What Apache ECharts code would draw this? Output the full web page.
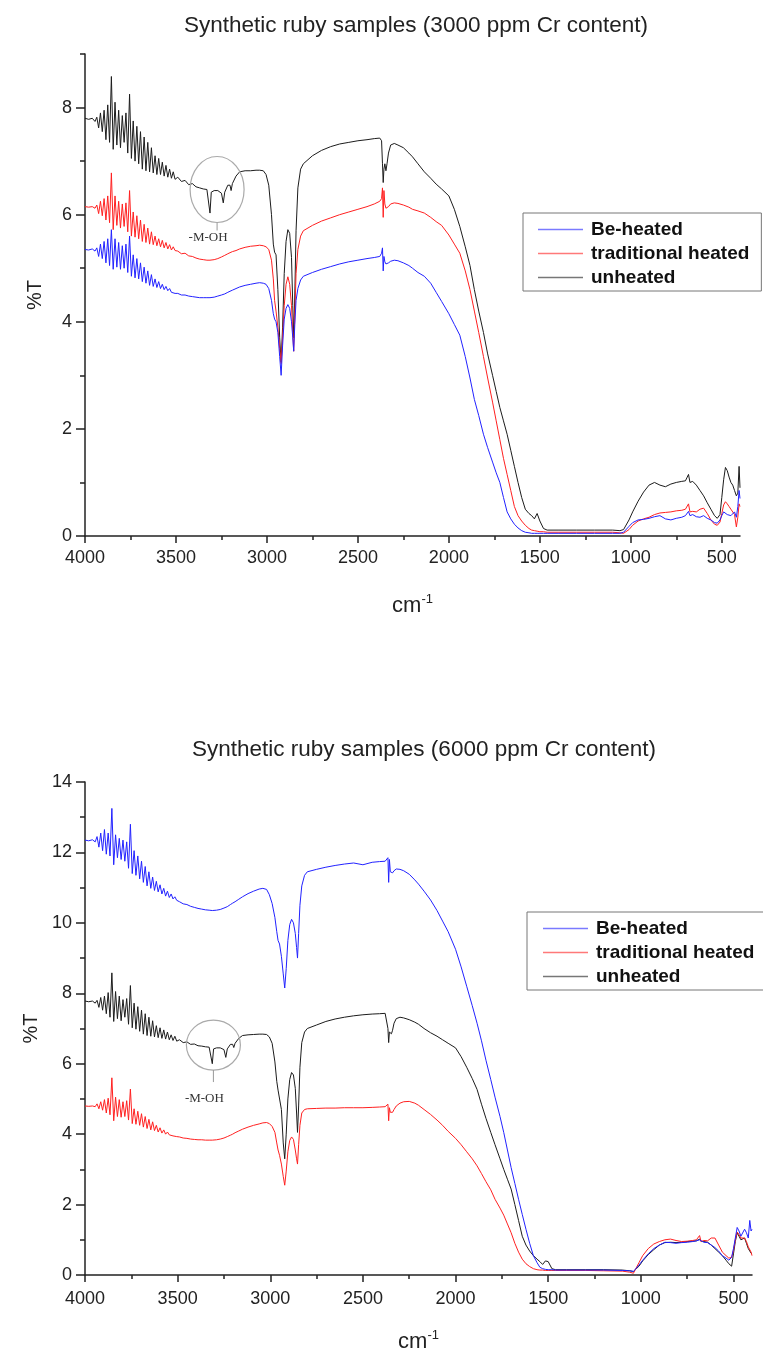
<!DOCTYPE html>
<html><head><meta charset="utf-8">
<script src="https://cdn.jsdelivr.net/npm/echarts@6/dist/echarts.min.js"></script>
<style>html,body{margin:0;padding:0;background:#fff}#c{width:763px;height:1354px}</style>
</head><body><div id="c"></div>
<script>
// Shared wavenumber grid (cm^-1) used by every spectrum
const wavenumbers = [
  4000, 3980, 3960, 3945,
  3935, 3925, 3915, 3905, 3895, 3885, 3875, 3865, 3855, 3845,
  3835, 3825, 3815, 3805, 3795, 3785, 3775, 3765, 3755, 3745,
  3735, 3725, 3715, 3705, 3695, 3685, 3675, 3665, 3655, 3645,
  3635, 3625, 3615, 3605, 3595, 3585, 3575, 3565, 3555, 3545,
  3535, 3525, 3515, 3505,
  3490, 3470, 3450, 3430, 3410, 3390, 3370, 3350, 3330, 3320,
  3313, 3306, 3290, 3270, 3250, 3240, 3232, 3215, 3203, 3197,
  3190, 3170, 3150, 3120, 3090, 3060, 3040, 3020, 3005,
  2990, 2975, 2965, 2958, 2950, 2940, 2930, 2922, 2914, 2905,
  2895, 2885, 2875, 2865, 2858, 2853, 2847, 2840, 2830, 2815, 2800,
  2750, 2700, 2650, 2600, 2550, 2500, 2450, 2410, 2380, 2370,
  2365, 2361, 2357, 2352, 2346, 2340, 2332, 2320, 2300, 2280,
  2250, 2220, 2200, 2170, 2135, 2100, 2070, 2040, 2000, 1970,
  1940, 1910, 1884, 1860, 1836, 1810, 1787, 1760, 1740, 1720,
  1700, 1680, 1660, 1640, 1620, 1600, 1580, 1560, 1545, 1530,
  1515, 1500, 1480, 1460,
  1400, 1300, 1200, 1100, 1060, 1040, 1030, 1010, 990, 960,
  930, 900, 870, 840, 810, 780, 750, 720, 700, 690,
  683, 675, 660, 640, 620, 600, 580, 560, 540, 525,
  510, 500, 490, 480, 470, 460, 450, 440, 430, 420,
  412, 405, 400
];

// ---- 3000 ppm Cr chart (%T) ----
const top_BeHeated = [
  5.35, 5.34, 5.36, 5.32,
  5.38, 5.22, 5.45, 5.18, 5.50, 5.10, 5.55, 5.05, 5.72, 4.98,
  5.55, 5.02, 5.48, 4.98, 5.42, 5.00, 5.45, 4.92, 5.60, 4.85,
  5.25, 4.82, 5.18, 4.80, 5.10, 4.75, 5.02, 4.72, 4.95, 4.68,
  4.88, 4.66, 4.80, 4.64, 4.75, 4.62, 4.70, 4.60, 4.66, 4.58,
  4.62, 4.55, 4.58, 4.53,
  4.53, 4.50, 4.50, 4.48, 4.47, 4.46, 4.45, 4.45, 4.45, 4.45,
  4.45, 4.45, 4.46, 4.48, 4.50, 4.51, 4.52, 4.55, 4.57, 4.58,
  4.59, 4.62, 4.65, 4.68, 4.70, 4.72, 4.73, 4.72, 4.70,
  4.62, 4.40, 4.15, 4.05, 4.00, 3.80, 3.35, 3.00, 3.55, 4.05,
  4.25, 4.32, 4.25, 4.00, 3.70, 3.45, 3.95, 4.40, 4.62, 4.78, 4.85,
  4.92, 4.98, 5.03, 5.08, 5.12, 5.15, 5.18, 5.20, 5.22, 5.28,
  5.38, 4.95, 5.22, 5.12, 5.08, 5.08, 5.10, 5.13, 5.15, 5.14,
  5.10, 5.05, 5.00, 4.92, 4.85, 4.72, 4.55, 4.38, 4.15, 3.95,
  3.75, 3.35, 2.95, 2.55, 2.25, 1.90, 1.65, 1.38, 1.18, 1.00,
  0.72, 0.45, 0.32, 0.22, 0.15, 0.10, 0.07, 0.06, 0.05, 0.05,
  0.05, 0.05, 0.05, 0.05,
  0.05, 0.05, 0.05, 0.05, 0.05, 0.07, 0.10, 0.18, 0.25, 0.30,
  0.31, 0.33, 0.36, 0.38, 0.32, 0.30, 0.33, 0.35, 0.38, 0.40,
  0.46, 0.38, 0.40, 0.36, 0.35, 0.38, 0.33, 0.30, 0.25, 0.24,
  0.30, 0.38, 0.45, 0.44, 0.40, 0.42, 0.38, 0.40, 0.45, 0.35,
  0.55, 0.85, 0.70
];
const top_Traditional = [
  6.15, 6.14, 6.15, 6.12,
  6.18, 6.02, 6.25, 5.98, 6.30, 5.90, 6.35, 5.85, 6.78, 5.72,
  6.35, 5.80, 6.25, 5.75, 6.20, 5.78, 6.22, 5.68, 6.45, 5.60,
  6.05, 5.58, 5.98, 5.55, 5.90, 5.50, 5.82, 5.48, 5.75, 5.45,
  5.68, 5.44, 5.60, 5.42, 5.55, 5.40, 5.52, 5.38, 5.48, 5.36,
  5.44, 5.34, 5.40, 5.33,
  5.32, 5.27, 5.28, 5.23, 5.22, 5.19, 5.17, 5.16, 5.15, 5.15,
  5.15, 5.15, 5.16, 5.18, 5.21, 5.22, 5.24, 5.27, 5.29, 5.30,
  5.31, 5.33, 5.36, 5.39, 5.41, 5.42, 5.43, 5.42, 5.40,
  5.35, 5.15, 4.80, 4.40, 4.20, 3.90, 3.50, 3.22, 3.70, 4.30,
  4.70, 4.84, 4.70, 4.30, 3.80, 3.45, 4.10, 4.90, 5.35, 5.60, 5.70,
  5.80, 5.88, 5.94, 6.00, 6.05, 6.10, 6.15, 6.20, 6.25, 6.30,
  6.50, 5.95, 6.45, 6.20, 6.12, 6.12, 6.15, 6.20, 6.22, 6.21,
  6.18, 6.14, 6.10, 6.07, 6.03, 5.95, 5.87, 5.80, 5.62, 5.45,
  5.28, 4.95, 4.60, 4.20, 3.80, 3.35, 2.95, 2.50, 2.15, 1.80,
  1.45, 1.15, 0.85, 0.55, 0.38, 0.28, 0.20, 0.14, 0.11, 0.10,
  0.09, 0.08, 0.08, 0.07,
  0.07, 0.07, 0.07, 0.07, 0.06, 0.05, 0.05, 0.12, 0.20, 0.28,
  0.32, 0.35, 0.40, 0.43, 0.44, 0.45, 0.47, 0.48, 0.50, 0.52,
  0.60, 0.45, 0.46, 0.45, 0.50, 0.52, 0.42, 0.30, 0.22, 0.20,
  0.26, 0.42, 0.58, 0.64, 0.60, 0.55, 0.50, 0.48, 0.40, 0.17,
  0.35, 0.60, 0.55
];
const top_Unheated = [
  7.80, 7.78, 7.80, 7.74,
  7.82, 7.62, 7.90, 7.55, 7.95, 7.40, 8.05, 7.35, 8.58, 7.22,
  8.10, 7.30, 7.95, 7.25, 7.85, 7.35, 7.90, 7.15, 8.25, 7.05,
  7.75, 7.00, 7.65, 6.95, 7.55, 6.85, 7.45, 6.82, 7.35, 6.80,
  7.25, 6.78, 7.10, 6.75, 7.05, 6.75, 6.98, 6.72, 6.92, 6.70,
  6.85, 6.68, 6.80, 6.66,
  6.70, 6.62, 6.64, 6.56, 6.58, 6.52, 6.50, 6.48, 6.47, 6.45,
  6.03, 6.42, 6.45, 6.45, 6.40, 6.22, 6.42, 6.55, 6.55, 6.45,
  6.58, 6.72, 6.80, 6.82, 6.82, 6.83, 6.83, 6.82, 6.75,
  6.55, 6.00, 5.45, 5.30, 5.25, 4.60, 3.70, 3.25, 3.90, 4.90,
  5.50, 5.72, 5.65, 5.20, 4.30, 3.70, 4.50, 5.70, 6.50, 6.85, 6.95,
  7.10, 7.20, 7.27, 7.32, 7.35, 7.38, 7.40, 7.42, 7.43, 7.38,
  6.95, 6.60, 6.85, 6.95, 6.82, 6.95, 7.15, 7.30, 7.33, 7.30,
  7.25, 7.15, 7.08, 6.95, 6.80, 6.68, 6.57, 6.48, 6.35, 6.10,
  5.78, 5.40, 5.05, 4.60, 4.20, 3.80, 3.40, 3.00, 2.70, 2.40,
  2.15, 1.90, 1.60, 1.30, 1.00, 0.72, 0.50, 0.42, 0.38, 0.32,
  0.42, 0.28, 0.14, 0.11,
  0.11, 0.11, 0.11, 0.11, 0.10, 0.12, 0.15, 0.30, 0.45, 0.65,
  0.82, 0.95, 1.00, 0.95, 0.92, 0.97, 1.00, 1.02, 1.03, 1.10,
  1.15, 1.00, 1.02, 0.95, 0.85, 0.75, 0.62, 0.50, 0.38, 0.33,
  0.40, 0.72, 1.05, 1.28, 1.22, 1.10, 1.00, 0.95, 0.85, 0.75,
  0.80, 1.30, 0.90
];

// ---- 6000 ppm Cr chart (%T) ----
const bottom_BeHeated = [
  12.35, 12.33, 12.36, 12.30,
  12.45, 12.15, 12.55, 12.05, 12.65, 11.95, 12.55, 11.90, 13.25, 11.65,
  12.50, 11.85, 12.40, 11.80, 12.35, 11.75, 12.30, 11.55, 12.80, 11.40,
  12.05, 11.35, 11.90, 11.25, 11.75, 11.15, 11.60, 11.05, 11.45, 10.98,
  11.30, 10.92, 11.18, 10.88, 11.08, 10.82, 10.98, 10.76, 10.90, 10.72,
  10.82, 10.68, 10.74, 10.64,
  10.60, 10.54, 10.52, 10.47, 10.44, 10.41, 10.39, 10.37, 10.36, 10.35,
  10.35, 10.35, 10.36, 10.38, 10.42, 10.44, 10.46, 10.52, 10.56, 10.58,
  10.60, 10.67, 10.74, 10.83, 10.90, 10.96, 10.98, 10.95, 10.80,
  10.55, 10.15, 9.75, 9.50, 9.40, 9.05, 8.55, 8.15, 8.70, 9.50,
  9.95, 10.10, 10.00, 9.70, 9.30, 9.00, 9.70, 10.50, 11.05, 11.35, 11.45,
  11.52, 11.58, 11.63, 11.67, 11.70, 11.65, 11.72, 11.74, 11.75, 11.76,
  11.85, 11.15, 11.80, 11.45, 11.40, 11.42, 11.48, 11.53, 11.52, 11.48,
  11.38, 11.22, 11.10, 10.90, 10.65, 10.35, 10.05, 9.75, 9.25, 8.75,
  8.20, 7.65, 7.15, 6.65, 6.10, 5.55, 5.05, 4.50, 4.05, 3.55,
  3.05, 2.60, 2.15, 1.72, 1.30, 0.90, 0.55, 0.35, 0.22, 0.18,
  0.16, 0.15, 0.15, 0.14,
  0.14, 0.14, 0.14, 0.13, 0.12, 0.10, 0.12, 0.28, 0.42, 0.60,
  0.75, 0.85, 0.93, 0.92, 0.90, 0.92, 0.93, 0.95, 0.97, 0.98,
  1.00, 0.95, 0.93, 0.92, 0.85, 0.78, 0.68, 0.55, 0.48, 0.42,
  0.50, 0.75, 1.05, 1.35, 1.25, 1.10, 1.05, 1.30, 1.20, 1.05,
  1.55, 1.25, 1.30
];
const bottom_Traditional = [
  4.80, 4.79, 4.80, 4.78,
  4.86, 4.72, 4.92, 4.68, 4.98, 4.60, 5.02, 4.55, 5.60, 4.38,
  5.05, 4.50, 4.98, 4.48, 4.92, 4.50, 4.95, 4.40, 5.28, 4.30,
  4.72, 4.28, 4.65, 4.25, 4.58, 4.20, 4.50, 4.16, 4.42, 4.12,
  4.35, 4.10, 4.25, 4.06, 4.18, 4.03, 4.12, 4.00, 4.06, 3.98,
  4.02, 3.95, 3.98, 3.93,
  3.92, 3.89, 3.88, 3.86, 3.85, 3.84, 3.84, 3.83, 3.83, 3.83,
  3.83, 3.83, 3.84, 3.86, 3.89, 3.91, 3.93, 3.97, 4.00, 4.02,
  4.04, 4.09, 4.14, 4.20, 4.25, 4.29, 4.32, 4.33, 4.30,
  4.22, 4.05, 3.75, 3.55, 3.40, 3.15, 2.80, 2.55, 2.95, 3.50,
  3.82, 3.92, 3.85, 3.55, 3.30, 3.15, 3.70, 4.25, 4.60, 4.70, 4.72,
  4.73, 4.74, 4.74, 4.75, 4.75, 4.75, 4.76, 4.77, 4.78, 4.78,
  4.85, 4.38, 4.75, 4.62, 4.58, 4.62, 4.70, 4.80, 4.88, 4.92,
  4.93, 4.88, 4.82, 4.70, 4.56, 4.40, 4.25, 4.08, 3.88, 3.70,
  3.50, 3.30, 3.10, 2.88, 2.65, 2.42, 2.15, 1.90, 1.70, 1.45,
  1.20, 0.90, 0.65, 0.45, 0.32, 0.24, 0.18, 0.15, 0.14, 0.14,
  0.13, 0.13, 0.13, 0.13,
  0.13, 0.13, 0.12, 0.11, 0.08, 0.05, 0.06, 0.35, 0.55, 0.75,
  0.88, 0.95, 1.00, 1.02, 0.98, 0.95, 0.96, 0.98, 1.00, 1.05,
  1.12, 0.95, 0.98, 0.97, 1.05, 1.05, 0.85, 0.65, 0.55, 0.48,
  0.50, 0.70, 1.00, 1.22, 1.15, 1.05, 1.00, 1.05, 0.95, 0.80,
  0.75, 0.65, 0.55
];
const bottom_Unheated = [
  7.78, 7.76, 7.78, 7.72,
  7.80, 7.60, 7.88, 7.52, 7.92, 7.42, 8.02, 7.32, 8.58, 7.20,
  8.05, 7.28, 7.92, 7.22, 7.82, 7.32, 7.85, 7.12, 8.22, 7.02,
  7.72, 6.98, 7.62, 6.92, 7.52, 6.84, 7.42, 6.80, 7.32, 6.78,
  7.22, 6.76, 7.08, 6.74, 7.02, 6.72, 6.96, 6.70, 6.90, 6.68,
  6.82, 6.66, 6.78, 6.64,
  6.68, 6.60, 6.62, 6.55, 6.56, 6.51, 6.50, 6.48, 6.47, 6.45,
  6.00, 6.42, 6.45, 6.45, 6.40, 6.18, 6.42, 6.55, 6.55, 6.46,
  6.58, 6.72, 6.80, 6.82, 6.83, 6.84, 6.84, 6.83, 6.76,
  6.58, 6.05, 5.50, 5.25, 5.20, 4.70, 3.75, 3.30, 4.00, 5.00,
  5.55, 5.75, 5.68, 5.30, 4.60, 4.05, 4.80, 5.90, 6.60, 6.90, 7.00,
  7.10, 7.20, 7.27, 7.32, 7.36, 7.39, 7.41, 7.42, 7.43, 7.38,
  7.00, 6.60, 6.90, 6.95, 6.85, 6.95, 7.15, 7.28, 7.32, 7.30,
  7.25, 7.18, 7.12, 7.00, 6.88, 6.78, 6.68, 6.58, 6.45, 6.20,
  5.90, 5.58, 5.27, 4.85, 4.45, 4.05, 3.70, 3.30, 3.00, 2.72,
  2.44, 2.00, 1.55, 1.10, 0.85, 0.68, 0.55, 0.45, 0.38, 0.30,
  0.40, 0.38, 0.18, 0.15,
  0.15, 0.15, 0.15, 0.14, 0.12, 0.10, 0.10, 0.25, 0.40, 0.58,
  0.72, 0.85, 0.92, 0.93, 0.92, 0.93, 0.95, 0.96, 0.97, 0.98,
  1.02, 0.95, 0.95, 0.93, 0.85, 0.75, 0.65, 0.55, 0.42, 0.32,
  0.25, 0.60, 0.95, 1.20, 1.10, 1.00, 0.98, 1.05, 0.90, 0.75,
  0.70, 0.62, 0.60
];

// Axis ticks / labels
const xMajorTicks = [500, 1000, 1500, 2000, 2500, 3000, 3500, 4000];
const xMinorTicks = [750, 1250, 1750, 2250, 2750, 3250, 3750];
const topYMajor = [0, 2, 4, 6, 8];
const topYMinor = [1, 3, 5, 7, 9];
const bottomYMajor = [0, 2, 4, 6, 8, 10, 12, 14];
const bottomYMinor = [1, 3, 5, 7, 9, 11, 13];

const seriesNames = ['Be-heated', 'traditional heated', 'unheated'];
const seriesColors = ['#2222ff', '#ff2020', '#1c1c1c'];
const chartTitles = ['Synthetic ruby samples (3000 ppm Cr content)', 'Synthetic ruby samples (6000 ppm Cr content)'];
const annotationLabel = '-M-OH';
const annotationTop = [3274, 6.47];     // [wavenumber, %T] of circled region
const annotationBottom = [3307, 6.53];

const FONT = "'Liberation Sans', Arial, Helvetica, sans-serif";
const AX = '#222';

const chartsData = [
  { values: [top_BeHeated, top_Traditional, top_Unheated], yMax: 9, yMajor: topYMajor, yMinor: topYMinor,
    grid: { left: 85, top: 54, width: 655, height: 482 }, xNameGap: 57, labelMargin: 13 },
  { values: [bottom_BeHeated, bottom_Traditional, bottom_Unheated], yMax: 14, yMajor: bottomYMajor, yMinor: bottomYMinor,
    grid: { left: 85, top: 782, width: 667, height: 494 }, xNameGap: 54, labelMargin: 15 }
];

chartsData.forEach(c => c.values.forEach((v, i) => {
  if (v.length !== wavenumbers.length) console.error('length mismatch', i, v.length, wavenumbers.length);
}));

const plain = v => String(v);
const grids = [], xAxes = [], yAxes = [], series = [];
chartsData.forEach((c, g) => {
  grids.push(Object.assign({ containLabel: false }, c.grid));
  const tickStyle = { color: AX, width: 1.5 };
  xAxes.push({
    type: 'value', gridIndex: g, min: 400, max: 4000, inverse: true, position: 'bottom',
    axisLine: { show: true, onZero: false, lineStyle: { color: AX, width: 1.5 } },
    axisTick: { show: true, customValues: xMajorTicks, length: 7, lineStyle: tickStyle },
    axisLabel: { customValues: xMajorTicks, formatter: plain, fontSize: 18, color: AX, margin: c.labelMargin, fontFamily: FONT },
    splitLine: { show: false },
    name: '{a|cm}{b|-1}', nameLocation: 'middle', nameGap: c.xNameGap,
    nameTextStyle: { fontFamily: FONT, color: AX, rich: {
      a: { fontSize: 22, fontFamily: FONT, color: AX, lineHeight: 26 },
      b: { fontSize: 13, fontFamily: FONT, color: AX, verticalAlign: 'top' } } }
  });
  xAxes.push({
    type: 'value', gridIndex: g, min: 400, max: 4000, inverse: true, position: 'bottom',
    axisLine: { show: false }, axisLabel: { show: false }, splitLine: { show: false },
    axisTick: { show: true, customValues: xMinorTicks, length: 4, lineStyle: tickStyle }
  });
  yAxes.push({
    type: 'value', gridIndex: g, min: 0, max: c.yMax, position: 'left',
    axisLine: { show: true, onZero: false, lineStyle: { color: AX, width: 1.5 } },
    axisTick: { show: true, customValues: c.yMajor, length: 9, lineStyle: tickStyle },
    axisLabel: { customValues: c.yMajor, formatter: plain, fontSize: 18, color: AX, margin: 13, fontFamily: FONT },
    splitLine: { show: false },
    name: '%T', nameLocation: 'middle', nameGap: 40, nameRotate: 90,
    nameTextStyle: { fontSize: 20, color: AX, fontFamily: FONT }
  });
  yAxes.push({
    type: 'value', gridIndex: g, min: 0, max: c.yMax, position: 'left',
    axisLine: { show: false }, axisLabel: { show: false }, splitLine: { show: false },
    axisTick: { show: true, customValues: c.yMinor, length: 5, lineStyle: tickStyle }
  });
  c.values.forEach((vals, i) => {
    series.push({
      type: 'line', name: seriesNames[i], xAxisIndex: g * 2, yAxisIndex: g * 2,
      data: wavenumbers.map((w, k) => [w, vals[k]]),
      showSymbol: false, symbol: 'none', silent: true,
      lineStyle: { width: 1, color: seriesColors[i] }, itemStyle: { color: seriesColors[i] },
      z: 3 - i
    });
  });
});

const legendBase = {
  orient: 'vertical', data: seriesNames, icon: 'rect', itemWidth: 45, itemHeight: 1.5, itemGap: 3,
  borderColor: '#777', borderWidth: 1, selectedMode: false, itemStyle: { opacity: 0.6 },
  textStyle: { fontSize: 19, fontWeight: 'bold', color: '#111', fontFamily: FONT, lineHeight: 21, padding: [0, 0, 0, 3] }
};

const chart = echarts.init(document.getElementById('c'), null, { renderer: 'canvas' });
chart.setOption({
  animation: false,
  backgroundColor: '#ffffff',
  title: [
    { text: chartTitles[0], left: 411, top: 9, textAlign: 'center',
      textStyle: { fontSize: 22.5, fontWeight: 'normal', color: AX, fontFamily: FONT } },
    { text: chartTitles[1], left: 419, top: 733, textAlign: 'center',
      textStyle: { fontSize: 22.5, fontWeight: 'normal', color: AX, fontFamily: FONT } }
  ],
  legend: [
    Object.assign({}, legendBase, { left: 523, top: 213, padding: [6, 12, 3, 15] }),
    Object.assign({}, legendBase, { left: 527, top: 912, padding: [6, 12, 3, 16] })
  ],
  grid: grids, xAxis: xAxes, yAxis: yAxes, series: series
});

function annotation(seriesIndex, pt, rx, ry, lineLen, textGap) {
  const p = chart.convertToPixel({ seriesIndex: seriesIndex }, pt);
  const cx = p[0], cy = p[1];
  return [
    { type: 'ellipse', shape: { cx: cx, cy: cy, rx: rx, ry: ry }, silent: true,
      style: { fill: 'none', stroke: '#aaaaaa', lineWidth: 1.2 }, z: 10 },
    { type: 'line', shape: { x1: cx, y1: cy + ry, x2: cx, y2: cy + ry + lineLen }, silent: true,
      style: { stroke: '#999999', lineWidth: 1 }, z: 10 },
    { type: 'text', x: cx - 9, y: cy + ry + textGap, silent: true, z: 10,
      style: { text: annotationLabel, fontSize: 13, fontFamily: "'Liberation Serif', 'Times New Roman', serif",
               fill: '#333', align: 'center', verticalAlign: 'middle' } }
  ];
}
chart.setOption({
  graphic: [].concat(
    annotation(2, annotationTop, 27, 33, 8, 15),
    annotation(5, annotationBottom, 27, 25, 12, 29)
  )
});
</script>
</body></html>
